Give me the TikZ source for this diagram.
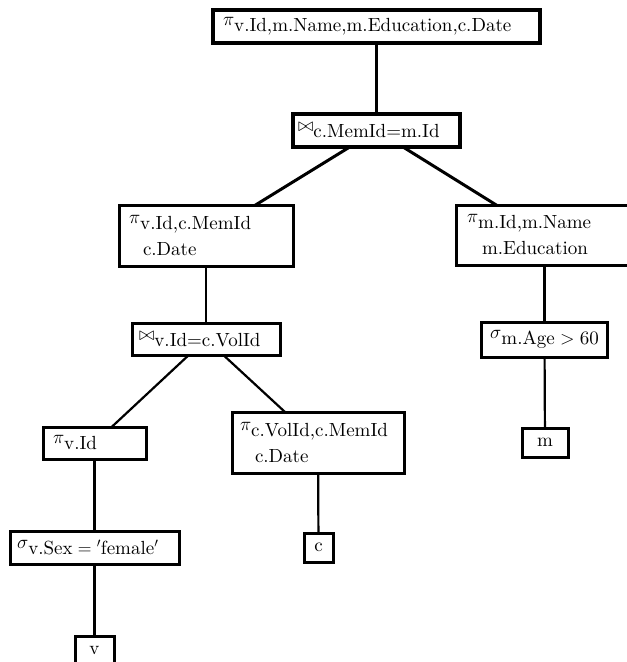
\RequirePackage{fix-cm}
\documentclass[tikz,border=0pt]{standalone}
\usepackage{fontspec}
\newfontfamily\cmten{lmroman10-regular.otf}
\usetikzlibrary{backgrounds}
\newcommand{\opsub}[2]{\ensuremath{#1}\raisebox{-6pt}{#2}}
\tikzset{
  box/.style={draw, line width=3pt, fill=white, inner ysep=0pt, inner xsep=0pt,
    font=\cmten\fontsize{19}{23}\selectfont, align=center},
  lbox/.style={box, align=left},
  edge/.style={line width=2.2pt},
  bigedge/.style={line width=3pt},
}
\begin{document}
\begin{tikzpicture}[x=1pt,y=-1pt]
\clip (0,0) rectangle (627,662);
% boxes
\node[lbox, line width=3.6pt, text width=307pt, inner xsep=10pt, minimum height=33pt] (top) at (376.5,26.5)
  {\opsub{\pi}{v.Id,m.Name,m.Education,c.Date}};
\node[lbox, line width=3.4pt, text width=157pt, inner xsep=5pt, minimum height=33pt] (j1) at (376.5,130.5)
  {\opsub{\bowtie}{c.MemId=m.Id}};
\node[lbox, text width=154pt, inner xsep=10pt, minimum height=61pt] (lp) at (206,235.5)
  {\opsub{\pi}{v.Id,c.MemId}\\[9pt]\hspace*{14pt}c.Date};
\node[lbox, text width=162pt, inner xsep=11pt, minimum height=60pt] (rp) at (548,235)
  {\opsub{\pi}{m.Id,m.Name}\\[9pt]\hspace*{15pt}m.Education};
\coordinate (rpc) at (544.5,235);
\node[lbox, text width=134pt, inner xsep=7pt, minimum height=32pt] (j2) at (206,339)
  {\opsub{\bowtie}{v.Id=c.VolId}};
\node[lbox, text width=156pt, inner xsep=8pt, minimum height=61pt] (pc) at (318,442.5)
  {\opsub{\pi}{c.VolId,c.MemId}\\[9pt]\hspace*{15pt}c.Date};
\node[lbox, text width=83pt, inner xsep=10pt, minimum height=32pt] (pv) at (94.5,443)
  {\opsub{\pi}{v.Id}};
\node[lbox, text width=155pt, inner xsep=7pt, minimum height=33pt] (sv) at (94.5,547.5)
  {\opsub{\sigma}{v.Sex${}={}$$'$female$'$}};
\node[box, minimum width=126pt, minimum height=35pt] (sm) at (544.5,339.5)
  {\opsub{\sigma}{m.Age${}>{}$60}};
\node[box, minimum width=46pt, minimum height=29pt] (m) at (545,442.5) {m};
\node[box, minimum width=29pt, minimum height=29pt] (c) at (318.5,547.5) {c};
\node[box, minimum width=39pt, minimum height=30pt] (v) at (94.5,651) {v};
% edges
\begin{pgfonlayer}{background}
\draw[bigedge] (top.center) -- (j1.center);
\draw[bigedge] (j1.center) -- (lp.center);
\draw[bigedge] (j1.center) -- (rpc);
\draw[edge] (lp.center) -- (j2.center);
\draw[edge] (j2.center) -- (pv.center);
\draw[edge] (j2.center) -- (pc.center);
\draw[edge] (pv.center) -- (sv.center);
\draw[edge] (sv.center) -- (v.center);
\draw[edge] (pc.center) -- (c.center);
\draw[edge] (rpc) -- (sm.center);
\draw[edge] (sm.center) -- (m.center);
\end{pgfonlayer}
\end{tikzpicture}
\end{document}
